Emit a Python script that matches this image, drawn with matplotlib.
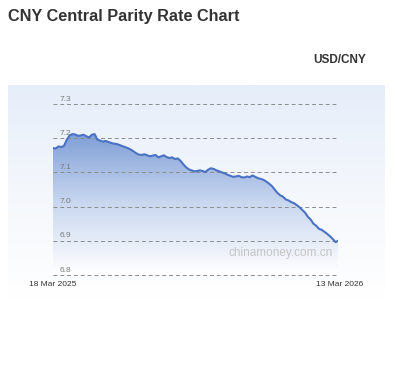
import numpy as np
import pandas as pd
import matplotlib.pyplot as plt
from matplotlib.colors import LinearSegmentedColormap

plt.rcParams['font.family'] = ['Liberation Sans', 'DejaVu Sans']

# central parity fixings, USD/CNY, twice a week
rates = [7.171, 7.170, 7.176, 7.174, 7.178, 7.196, 7.208, 7.212, 7.211, 7.207,
         7.208, 7.210, 7.206, 7.202, 7.210, 7.212, 7.196, 7.193, 7.190, 7.192,
         7.189, 7.186, 7.184, 7.183, 7.180, 7.177, 7.174, 7.171, 7.167, 7.162,
         7.156, 7.152, 7.151, 7.153, 7.150, 7.147, 7.149, 7.151, 7.144, 7.147,
         7.150, 7.145, 7.142, 7.144, 7.139, 7.141, 7.134, 7.124, 7.115, 7.109,
         7.106, 7.103, 7.104, 7.106, 7.104, 7.101, 7.108, 7.112, 7.110, 7.106,
         7.103, 7.100, 7.097, 7.093, 7.090, 7.087, 7.088, 7.090, 7.086, 7.085,
         7.088, 7.086, 7.091, 7.087, 7.083, 7.081, 7.078, 7.073, 7.067, 7.060,
         7.050, 7.040, 7.033, 7.029, 7.021, 7.018, 7.013, 7.010, 7.004, 6.998,
         6.990, 6.982, 6.970, 6.962, 6.950, 6.944, 6.935, 6.932, 6.926, 6.920,
         6.913, 6.905, 6.896, 6.900]
dates = list(pd.date_range('2025-03-18', periods=103, freq='84h')) + [pd.Timestamp('2026-03-13')]
yticks = [6.8, 6.9, 7.0, 7.1, 7.2, 7.3]
start_label = '18 Mar 2025'
end_label = '13 Mar 2026'

W, H = 395, 387
fig = plt.figure(figsize=(W / 100, H / 100), dpi=100)
fig.patch.set_facecolor('white')

# light blue panel behind the chart
bg = fig.add_axes([8 / W, 1 - 300 / H, 377 / W, 215 / H])
bg_cmap = LinearSegmentedColormap.from_list('bg', ['#e6eefa', '#f4f7fc', '#ffffff'])
bg.imshow(np.linspace(0, 1, 200).reshape(-1, 1), aspect='auto', cmap=bg_cmap,
          extent=[0, 1, 0, 1], origin='upper')
bg.axis('off')

ax = fig.add_axes([53 / W, 1 - 275 / H, 285 / W, 171 / H])
ax.set_facecolor('none')
x = np.array([d.timestamp() / 86400 for d in dates])
y = np.array(rates)

# gradient fill under the line
fill_cmap = LinearSegmentedColormap.from_list('fill', ['#ffffff', '#c9d7ef', '#7d9dd6'])
grad = ax.imshow(np.linspace(1, 0, 256).reshape(-1, 1), aspect='auto', cmap=fill_cmap,
                 extent=[x[0], x[-1], 6.8, 7.22], origin='upper', zorder=1)
poly = ax.fill_between(x, y, 6.8, color='none')
grad.set_clip_path(poly.get_paths()[0], transform=ax.transData)
ax.set_xlim(x[0], x[-1])
ax.set_ylim(6.8, 7.3)

for t in yticks:
    ax.axhline(t, color='#8c8c8c', lw=0.7, ls=(0, (4, 3)), zorder=2, clip_on=False)
    ax.text(x[0] + 8, t + 0.004, f'{t:.1f}', fontsize=6, color='#7a7a7a',
            ha='left', va='bottom', zorder=3)

ax.plot(x, y, color='#4a72c4', lw=1.5, zorder=4)

ax.text(0.80, 0.13, 'chinamoney.com.cn', transform=ax.transAxes, fontsize=8.5,
        color='#c4c4c4', ha='center', va='center', zorder=3)

for s in ax.spines.values():
    s.set_visible(False)
ax.set_xticks([])
ax.set_yticks([])

fig.text(53 / W, 1 - 285 / H, start_label, fontsize=6, color='#333333', ha='center', va='center')
fig.text(340 / W, 1 - 285 / H, end_label, fontsize=6, color='#333333', ha='center', va='center')

fig.text(8 / W, 1 - 16 / H, 'CNY Central Parity Rate Chart', fontsize=11.7, fontweight='bold',
         color='#333333', ha='left', va='center')
fig.text(366 / W, 1 - 60 / H, 'USD/CNY', fontsize=8.5, fontweight='bold',
         color='#333333', ha='right', va='center')

fig.savefig('out.png', dpi=100, facecolor='white')
